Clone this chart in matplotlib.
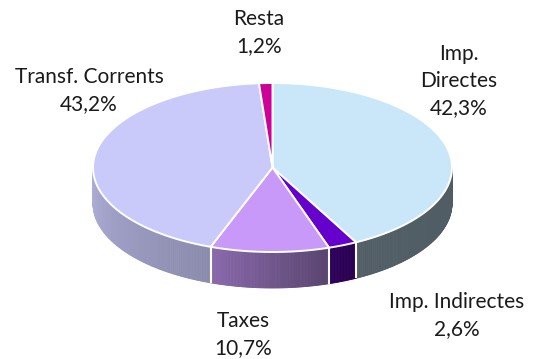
import numpy as np
import matplotlib
matplotlib.use("Agg")
import matplotlib.pyplot as plt
from matplotlib.patches import Polygon
from matplotlib.colors import to_rgb

# Budget shares (%), drawn clockwise from 12 o'clock
names = ["Imp. Directes", "Imp. Indirectes", "Taxes", "Transf. Corrents", "Resta"]
values = [42.3, 2.6, 10.7, 43.2, 1.2]
colors = ["#C9E7F9", "#6600CC", "#C999FA", "#C9C9FA", "#CC0099"]

# label text lines and their anchor (x centre, first baseline) in pixels
label_lines = [["Imp.", "Directes"], ["Imp. Indirectes"], ["Taxes"],
               ["Transf. Corrents"], ["Resta"]]
label_pos = [(459, 60), (457, 308), (243, 327), (89, 83), (259, 25)]
line_step = 27

W, H = 538, 359
fig = plt.figure(figsize=(W / 100, H / 100), dpi=100)
ax = fig.add_axes([0, 0, 1, 1])
ax.set_xlim(0, W)
ax.set_ylim(H, 0)
ax.axis("off")

cx, cy, rx, ry, depth = 272.5, 167.5, 179.5, 84.5, 36


def top_pt(theta):
    t = np.radians(theta)
    return cx + rx * np.sin(t), cy - ry * np.cos(t)


def shade(theta):
    # brightness of the rim as it turns from the left (lit) to the right
    return np.interp(theta, [90, 155, 161.6, 200.2, 270],
                     [0.40, 0.41, 0.44, 0.69, 0.86])


total = sum(values)
bounds = np.concatenate([[0], np.cumsum(values) / total * 360])

# rim (side walls) of the front half
for i, col in enumerate(colors):
    a0, a1 = bounds[i], bounds[i + 1]
    lo, hi = max(a0, 90), min(a1, 270)
    if hi <= lo:
        continue
    base = np.array(to_rgb(col))
    steps = np.linspace(lo, hi, max(2, int((hi - lo) / 0.5) + 1))
    for t0, t1 in zip(steps[:-1], steps[1:]):
        x0, y0 = top_pt(t0)
        x1, y1 = top_pt(t1)
        c = np.clip(base * shade((t0 + t1) / 2), 0, 1)
        ax.add_patch(Polygon([(x0, y0), (x1, y1), (x1, y1 + depth), (x0, y0 + depth)],
                             closed=True, facecolor=c, edgecolor=c, lw=0.6,
                             antialiased=True))

# white separators on the rim
for b in bounds[1:-1]:
    if 90 < b < 270:
        x, y = top_pt(b)
        ax.plot([x, x], [y, y + depth], color="white", lw=1.5, solid_capstyle="butt")

# top faces
for i, col in enumerate(colors):
    a0, a1 = bounds[i], bounds[i + 1]
    ts = np.linspace(a0, a1, max(3, int((a1 - a0) / 0.5) + 1))
    pts = [(cx, cy)] + [top_pt(t) for t in ts]
    ax.add_patch(Polygon(pts, closed=True, facecolor=col, edgecolor="white",
                         lw=1.4, joinstyle="round"))

# labels
for lines, v, (lx, ly) in zip(label_lines, values, label_pos):
    pct = f"{v:.1f}".replace(".", ",") + "%"
    for k, s in enumerate(lines + [pct]):
        ax.text(lx, ly + k * line_step, s, ha="center", va="baseline",
                fontsize=15, family="Lato", color="#1A1A1A")

fig.savefig("out.png", dpi=100)
